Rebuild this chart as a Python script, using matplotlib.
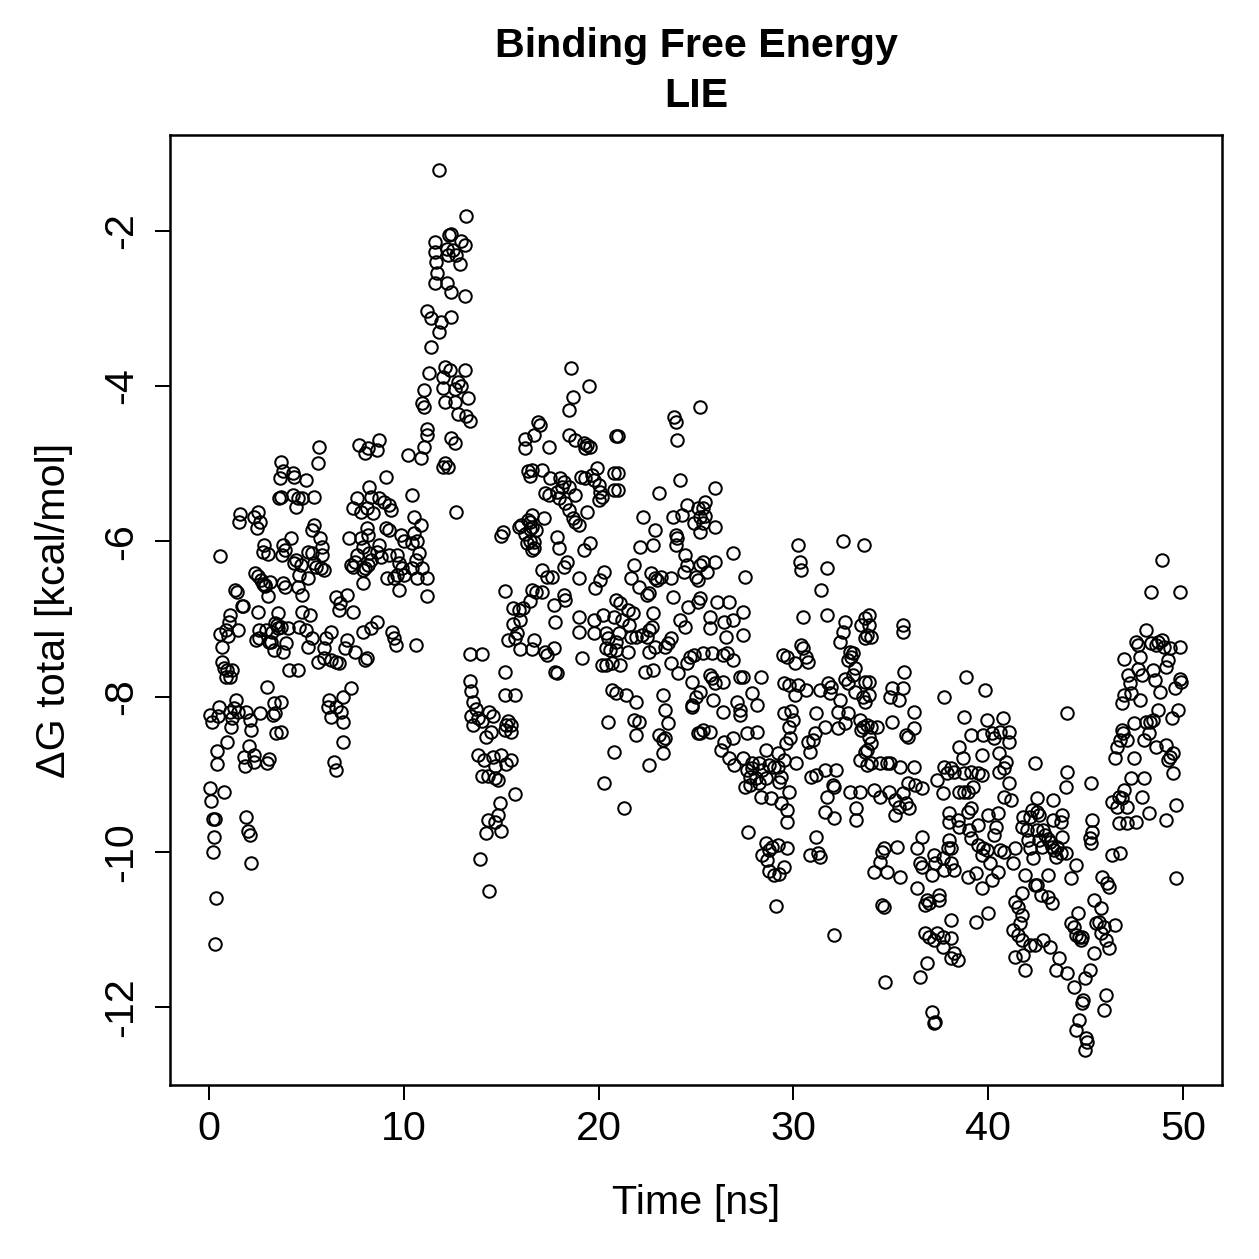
import matplotlib
matplotlib.use("Agg")
import matplotlib.pyplot as plt

plt.rcParams['font.family'] = ['Liberation Sans', 'DejaVu Sans']

# ---- data: (time [ns], dG total [kcal/mol]), by time segment ----
seg_00_04 = [(0.10,-9.35),(0.20,-9.58),(0.30,-9.58),(0.20,-10.0),(0.15,-8.33),(0.35,-10.6),(0.30,-11.19),
    (0.40,-8.87),(0.45,-8.25),(0.56,-7.19),(0.56,-6.19),(0.67,-7.36),(0.67,-7.55),(0.77,-7.63),(0.77,-9.23),
    (0.87,-7.75),(0.92,-8.58),(0.97,-7.22),(1.02,-7.04),(1.07,-7.75),(1.13,-8.39),(1.18,-8.28),(1.28,-8.15),
    (1.33,-6.63),(1.43,-6.65),(1.48,-8.2),(1.54,-5.75),(1.59,-5.65),(1.69,-6.83),(1.74,-6.83),(1.79,-8.78),
    (1.84,-8.89),(1.89,-9.55),(1.99,-9.73),(2.10,-9.78),(2.05,-8.64),(2.15,-10.15),(2.15,-8.43),(2.30,-8.84),
    (2.30,-5.69),(2.35,-6.41),(2.40,-7.27),(2.46,-5.83),(2.51,-6.91),(2.56,-7.14),(2.61,-8.21),(2.66,-6.5),
    (2.76,-6.14),(2.81,-6.05),(2.86,-6.56),(2.92,-7.14),(2.97,-7.88),(2.97,-8.86),(3.02,-6.7),(3.07,-7.3),
    (3.12,-6.52),(3.22,-7.17),(3.33,-7.4),(3.33,-8.08),(3.43,-8.47),(3.38,-8.21),(3.48,-7.08),(3.53,-6.92),
    (3.58,-5.44),(3.63,-5.18),(3.68,-4.98),(3.74,-6.18),(3.79,-6.05),(2.50,-5.62),(2.60,-5.75),(3.05,-6.16),
    (2.50,-6.45),(2.75,-6.55),(2.90,-6.58),(3.40,-7.05),(3.55,-7.12),(2.55,-7.25),(3.20,-7.3),(1.40,-8.05),
    (0.50,-8.13),(0.05,-8.24),(1.07,-8.2),(1.90,-8.2),(2.10,-8.3),(3.30,-8.24),(3.10,-8.8),(2.30,-8.75),
    (0.90,-7.14),(1.50,-7.14),(1.10,-6.95),(0.95,-7.66),(1.20,-7.66),(0.40,-8.7),(0.05,-9.18),(0.26,-9.81)]

seg_04_08 = [(5.63,-4.78),(7.68,-4.76),(8.03,-4.86),(5.58,-4.99),(3.80,-5.1),(4.30,-5.12),(4.35,-5.17),
    (4.96,-5.21),(3.70,-5.43),(4.30,-5.4),(4.55,-5.44),(4.80,-5.44),(5.37,-5.43),(4.45,-5.56),(7.60,-5.44),
    (7.40,-5.57),(7.80,-5.62),(5.40,-5.79),(5.30,-5.85),(5.70,-5.96),(5.80,-6.07),(4.20,-5.96),(3.90,-6.11),
    (5.07,-6.14),(5.30,-6.15),(5.80,-6.18),(4.45,-6.24),(4.35,-6.28),(4.70,-6.3),(5.37,-6.28),(5.48,-6.33),
    (5.73,-6.34),(5.88,-6.37),(7.17,-5.96),(7.80,-5.96),(7.90,-6.07),(7.60,-6.18),(7.50,-6.27),(7.27,-6.3),
    (7.37,-6.33),(7.90,-6.37),(7.90,-6.54),(3.80,-6.54),(3.90,-6.59),(4.60,-6.43),(5.07,-6.47),(4.55,-6.59),
    (4.80,-6.69),(6.50,-6.72),(6.75,-6.8),(7.10,-6.69),(6.65,-6.88),(7.40,-6.91),(4.80,-6.91),(5.20,-6.95),
    (3.70,-7.1),(4.04,-7.12),(4.60,-7.1),(4.96,-7.14),(5.30,-7.24),(5.07,-7.36),(3.94,-7.31),(3.80,-7.42),
    (6.24,-7.17),(6.00,-7.24),(5.90,-7.37),(7.10,-7.27),(7.00,-7.37),(7.50,-7.43),(7.90,-7.17),(8.00,-7.53),
    (5.60,-7.55),(5.90,-7.5),(6.24,-7.53),(6.50,-7.55),(6.65,-7.57),(4.10,-7.66),(4.55,-7.66),(7.27,-7.89),
    (6.86,-8.0),(6.14,-8.04),(6.09,-8.13),(6.50,-8.13),(6.76,-8.2),(6.86,-8.33),(6.24,-8.26),(3.70,-8.07),
    (3.70,-8.46),(6.86,-8.59),(6.40,-8.84),(6.50,-8.95)]

seg_08_12 = [(11.8,-1.22),(12.3,-2.05),(11.6,-2.15),(12.2,-2.24),(12.25,-2.31),(11.6,-2.28),(11.65,-2.4),
    (11.7,-2.54),(11.6,-2.67),(12.2,-2.67),(11.2,-3.04),(11.4,-3.12),(11.9,-3.17),(11.8,-3.3),(11.4,-3.5),
    (11.3,-3.83),(12.1,-3.75),(12.0,-3.88),(11.05,-4.05),(12.0,-4.02),(12.1,-4.2),(10.95,-4.22),(11.05,-4.27),
    (11.2,-4.56),(11.2,-4.63),(11.05,-4.78),(12.4,-4.67),(8.75,-4.69),(8.65,-4.82),(8.14,-4.8),(10.2,-4.89),
    (10.9,-4.93),(12.1,-4.99),(12.0,-5.04),(9.10,-5.17),(10.4,-5.4),(8.24,-5.3),(8.34,-5.43),(8.75,-5.44),
    (9.00,-5.49),(9.26,-5.53),(9.36,-5.6),(8.10,-5.57),(8.40,-5.63),(10.54,-5.69),(10.9,-5.79),(10.54,-5.89),
    (9.10,-5.83),(9.26,-5.85),(8.10,-5.83),(8.14,-5.92),(9.88,-5.92),(10.03,-6.0),(10.4,-6.02),(10.7,-6.0),
    (10.8,-6.15),(10.64,-6.24),(10.95,-6.34),(8.75,-6.05),(8.65,-6.14),(8.85,-6.2),(8.24,-6.15),(8.34,-6.24),
    (8.14,-6.3),(8.00,-6.34),(9.26,-6.18),(9.67,-6.18),(9.78,-6.28),(9.93,-6.34),(10.4,-6.34),(9.67,-6.43),
    (10.03,-6.43),(9.16,-6.47),(9.50,-6.47),(10.7,-6.47),(11.2,-6.47),(9.78,-6.63),(8.60,-7.04),(8.34,-7.12),
    (9.42,-7.17),(9.50,-7.24),(9.60,-7.33),(10.64,-7.33),(8.10,-7.5),(11.2,-6.7),(12.7,-5.62)]

seg_12_17 = [(13.2,-1.81),(12.44,-2.04),(12.95,-2.13),(13.15,-2.19),(12.54,-2.25),(12.7,-2.31),(12.9,-2.43),
    (12.44,-2.79),(13.15,-2.84),(12.44,-3.11),(12.38,-3.79),(13.15,-3.79),(12.8,-3.95),(12.64,-4.04),
    (12.95,-4.0),(13.3,-4.15),(12.64,-4.2),(12.8,-4.36),(13.2,-4.38),(13.4,-4.45),(12.64,-4.74),(12.28,-5.04),
    (16.2,-4.68),(16.2,-4.8),(16.4,-5.1),(16.5,-5.16),(16.4,-5.72),(16.5,-5.75),(16.6,-5.81),(15.9,-5.81),
    (16.0,-5.79),(16.5,-5.84),(16.2,-5.9),(16.3,-6.02),(16.5,-5.99),(15.0,-5.93),(15.1,-5.88),(15.2,-6.64),
    (15.6,-6.86),(15.9,-6.88),(16.1,-6.86),(16.5,-6.77),(15.6,-7.06),(15.95,-7.02),(15.8,-7.18),(15.35,-7.27),
    (15.7,-7.24),(15.95,-7.39),(16.6,-7.39),(13.4,-7.45),(14.0,-7.45),(15.2,-7.69),(13.4,-7.8),(13.46,-7.93),
    (13.56,-8.07),(13.7,-8.16),(13.46,-8.25),(13.82,-8.28),(13.56,-8.37),(14.0,-8.31),(14.4,-8.2),(14.6,-8.25),
    (14.5,-8.46),(14.2,-8.52),(15.35,-8.31),(15.5,-8.37),(15.5,-8.46),(15.2,-8.43),(15.25,-8.37),(15.2,-7.98),
    (15.7,-7.98),(13.8,-8.75),(14.1,-8.82),(14.6,-8.78),(14.7,-8.9),(15.0,-8.75),(15.25,-8.87),(15.5,-8.82),
    (14.85,-9.07),(14.7,-9.05),(14.0,-9.02),(14.3,-9.02),(15.7,-9.26),(14.95,-9.37),(14.85,-9.53),(14.3,-9.59),
    (14.7,-9.62),(14.2,-9.76),(15.0,-9.73),(13.9,-10.09),(14.4,-10.5)]

seg_17_21 = [(18.6,-3.77),(19.5,-4.0),(18.7,-4.14),(18.5,-4.31),(16.9,-4.46),(17.0,-4.5),(16.7,-4.63),
    (17.45,-4.78),(18.5,-4.63),(18.8,-4.69),(19.25,-4.73),(19.4,-4.76),(19.55,-4.78),(19.3,-4.8),(20.9,-4.65),
    (16.6,-5.08),(17.1,-5.08),(17.5,-5.18),(18.0,-5.18),(18.2,-5.23),(18.1,-5.3),(18.5,-5.3),(17.25,-5.38),
    (17.45,-5.4),(17.85,-5.36),(17.95,-5.44),(18.8,-5.4),(19.1,-5.17),(19.3,-5.18),(19.65,-5.14),(19.9,-5.05),
    (19.75,-5.21),(20.0,-5.27),(20.05,-5.36),(20.15,-5.43),(20.0,-5.47),(20.8,-5.12),(20.8,-5.34),(18.3,-5.51),
    (18.5,-5.6),(18.7,-5.7),(18.8,-5.75),(19.0,-5.79),(19.4,-5.62),(16.6,-5.66),(17.2,-5.7),(16.8,-5.85),
    (16.7,-6.01),(16.6,-6.11),(16.7,-6.09),(17.85,-5.94),(17.95,-6.08),(19.25,-6.11),(19.55,-6.02),(18.4,-6.27),
    (18.2,-6.33),(17.1,-6.37),(17.35,-6.46),(17.6,-6.46),(19.0,-6.47),(20.3,-6.4),(20.05,-6.5),(19.8,-6.6),
    (16.6,-6.63),(16.8,-6.65),(17.1,-6.65),(17.7,-6.82),(18.2,-6.69),(18.3,-6.76),(17.75,-7.04),(19.0,-6.97),
    (19.75,-7.01),(20.25,-6.95),(20.8,-6.97),(20.9,-6.76),(19.0,-7.17),(19.75,-7.18),(20.4,-7.18),(20.5,-7.24),
    (20.4,-7.37),(20.6,-7.4),(20.15,-7.59),(20.4,-7.59),(20.7,-7.57),(16.7,-7.27),(17.25,-7.43),(17.35,-7.46),
    (17.7,-7.37),(17.75,-7.68),(17.85,-7.7),(19.15,-7.5),(20.7,-7.92),(20.5,-8.33),(20.8,-8.71),(20.3,-9.11)]

seg_21_25 = [(25.2,-4.27),(23.85,-4.4),(23.95,-4.46),(24.05,-4.69),(21.0,-4.65),(21.0,-5.12),(21.0,-5.34),
    (24.2,-5.21),(23.1,-5.38),(22.3,-5.69),(23.8,-5.69),(24.3,-5.66),(24.55,-5.53),(25.1,-5.57),(25.2,-5.69),
    (24.9,-5.76),(25.2,-5.88),(22.9,-5.85),(22.15,-6.07),(22.8,-6.05),(23.95,-5.92),(24.05,-5.96),(23.95,-6.05),
    (24.45,-6.18),(24.55,-6.3),(24.4,-6.4),(25.0,-6.46),(25.2,-6.3),(25.1,-6.5),(21.8,-6.3),(21.65,-6.47),
    (22.7,-6.41),(22.9,-6.47),(23.0,-6.5),(23.2,-6.46),(23.7,-6.47),(22.05,-6.59),(22.5,-6.69),(22.6,-6.67),
    (23.8,-6.72),(24.6,-6.85),(25.1,-6.78),(24.2,-7.01),(24.45,-7.1),(23.7,-7.24),(23.55,-7.31),(23.4,-7.36),
    (22.8,-6.92),(22.75,-7.1),(22.6,-7.14),(22.5,-7.23),(22.9,-7.36),(22.6,-7.43),(22.4,-7.68),(22.8,-7.66),
    (23.7,-7.57),(24.1,-7.7),(24.7,-7.49),(24.9,-7.46),(24.55,-7.57),(24.8,-7.81),(25.0,-8.0),(24.8,-8.11),
    (25.2,-8.47),(21.1,-6.8),(21.5,-6.88),(21.75,-6.92),(21.2,-7.01),(21.55,-7.08),(21.65,-7.23),(21.9,-7.23),
    (22.25,-7.21),(21.05,-7.18),(20.9,-7.3),(20.9,-7.4),(21.5,-7.43),(21.1,-7.59),(20.9,-7.95),(21.4,-7.98),
    (21.9,-8.07),(21.8,-8.3),(21.9,-8.49),(22.05,-8.33),(21.3,-9.44),(23.3,-7.98),(23.4,-8.17),(23.55,-8.34),
    (23.1,-8.5),(23.3,-8.56),(23.4,-8.53),(23.3,-8.73),(22.6,-8.88),(24.8,-8.13),(25.1,-8.47)]

seg_25_29 = [(26.0,-5.31),(25.45,-5.49),(25.35,-5.57),(25.45,-5.68),(25.35,-5.76),(26.0,-5.81),(26.9,-6.15),
    (25.35,-6.27),(25.95,-6.27),(25.55,-6.39),(27.5,-6.46),(25.2,-6.73),(26.1,-6.78),(26.7,-6.78),(25.7,-6.97),
    (26.45,-7.04),(26.9,-7.01),(27.4,-6.91),(25.7,-7.12),(26.55,-7.23),(27.4,-7.21),(25.35,-7.44),(25.8,-7.44),
    (26.4,-7.46),(26.6,-7.44),(26.9,-7.53),(25.7,-7.72),(25.8,-7.76),(25.95,-7.82),(26.4,-7.81),(27.25,-7.75),
    (27.4,-7.75),(28.35,-7.75),(25.2,-7.94),(25.85,-8.04),(26.4,-8.2),(27.1,-8.07),(27.25,-8.17),(27.25,-8.24),
    (27.85,-7.95),(28.15,-8.11),(29.45,-7.46),(29.5,-7.82),(29.5,-8.21),(25.35,-8.43),(25.7,-8.46),(26.45,-8.59),
    (26.3,-8.69),(26.9,-8.53),(27.6,-8.47),(28.15,-8.46),(28.6,-8.69),(29.2,-8.73),(26.7,-8.79),(26.95,-8.88),
    (27.4,-8.79),(27.85,-8.86),(27.9,-8.92),(27.6,-8.95),(28.25,-8.86),(28.4,-8.95),(28.75,-8.88),(29.0,-8.91),
    (29.2,-8.91),(27.75,-9.04),(28.1,-9.05),(28.25,-9.11),(28.6,-9.05),(27.5,-9.16),(27.75,-9.14),(28.35,-9.29),
    (28.85,-9.31),(29.35,-9.04),(29.25,-9.1),(29.35,-9.37),(27.65,-9.74),(28.6,-9.89),(28.4,-10.04),(28.75,-9.98),
    (28.9,-9.94),(29.2,-9.91),(28.65,-10.1),(28.75,-10.25),(29.0,-10.3),(29.25,-10.28),(29.1,-10.7)]

seg_29_34 = [(30.25,-6.05),(32.55,-6.0),(33.6,-6.05),(30.35,-6.27),(30.4,-6.37),(31.7,-6.34),(31.4,-6.63),
    (30.5,-6.97),(31.7,-6.95),(32.65,-7.04),(32.55,-7.17),(32.4,-7.3),(33.45,-7.08),(33.7,-6.99),(33.65,-7.24),
    (32.9,-7.43),(32.95,-7.49),(33.05,-7.44),(32.8,-7.53),(33.15,-7.63),(33.05,-7.72),(32.65,-7.78),(32.8,-7.82),
    (33.65,-7.81),(33.55,-8.0),(33.15,-7.94),(30.4,-7.34),(30.5,-7.37),(30.65,-7.49),(30.75,-7.55),(29.65,-7.49),
    (30.1,-7.57),(29.75,-7.85),(30.25,-7.85),(30.1,-7.98),(30.65,-7.92),(31.35,-7.92),(31.8,-7.82),(31.95,-7.88),
    (31.9,-7.95),(32.4,-8.04),(32.3,-8.2),(32.8,-8.21),(33.4,-8.3),(33.55,-8.39),(33.7,-8.07),(31.6,-8.39),
    (31.15,-8.21),(29.9,-8.18),(30.0,-8.3),(29.75,-8.39),(29.85,-8.53),(29.6,-8.6),(31.1,-8.47),(31.0,-8.56),
    (30.75,-8.59),(30.85,-8.71),(33.45,-8.43),(33.4,-8.82),(33.65,-8.71),(32.3,-8.41),(32.65,-8.34),(29.5,-8.82),
    (30.15,-8.86),(29.75,-9.23),(30.9,-9.04),(31.15,-9.01),(31.6,-8.95),(32.2,-8.95),(32.05,-9.14),(32.1,-9.16),
    (31.7,-9.29),(32.9,-9.23),(33.4,-9.23),(33.2,-9.44),(33.2,-9.59),(31.6,-9.49),(32.1,-9.56),(29.65,-9.46),
    (29.65,-9.62),(29.65,-9.95),(29.5,-10.2),(31.15,-9.81),(30.85,-10.04),(31.25,-10.01),(31.35,-10.07),
    (32.1,-11.07)]

seg_34_38 = [(33.9,-6.95),(33.9,-7.08),(33.8,-7.21),(34.0,-7.23),(35.65,-7.08),(35.65,-7.17),(35.7,-7.68),
    (33.9,-7.81),(33.9,-7.98),(35.05,-7.89),(35.65,-7.89),(34.95,-8.0),(35.4,-8.04),(36.2,-8.2),(37.75,-8.0),
    (35.05,-8.33),(36.2,-8.41),(35.8,-8.5),(35.9,-8.52),(33.8,-8.37),(34.0,-8.39),(34.3,-8.39),(33.9,-8.52),
    (34.0,-8.6),(33.8,-8.69),(33.8,-8.88),(34.0,-8.86),(34.45,-8.86),(34.8,-8.86),(34.95,-8.86),(35.45,-8.91),
    (36.2,-8.91),(34.15,-9.2),(34.45,-9.29),(34.9,-9.23),(35.2,-9.33),(35.4,-9.42),(35.2,-9.53),(35.8,-9.37),
    (35.95,-9.44),(36.25,-9.14),(36.6,-9.18),(35.9,-9.11),(35.65,-9.24),(37.35,-9.07),(37.75,-8.91),(37.9,-8.98),
    (37.7,-9.24),(38.0,-9.5),(38.0,-9.62),(34.65,-9.95),(34.55,-10.0),(35.3,-9.94),(34.45,-10.13),(34.15,-10.26),
    (34.8,-10.26),(35.45,-10.32),(36.35,-9.95),(36.6,-9.81),(36.5,-10.14),(36.6,-10.2),(37.1,-10.3),(37.2,-10.04),
    (37.7,-10.08),(37.25,-10.14),(37.75,-10.23),(38.0,-9.85),(37.95,-9.95),(36.35,-10.47),(36.85,-10.62),
    (36.95,-10.66),(37.45,-10.56),(37.45,-10.62),(36.75,-10.69),(37.35,-11.05),(37.2,-11.14),(37.7,-11.1),
    (36.75,-11.05),(36.95,-11.1),(37.7,-11.23),(38.1,-10.88),(38.1,-11.37),(36.85,-11.43),(36.5,-11.61),
    (34.7,-11.68),(37.1,-12.06),(37.25,-12.19),(37.2,-12.2),(34.55,-10.69),(34.65,-10.71)]

seg_38_42 = [(38.85,-7.75),(39.85,-7.92),(38.75,-8.26),(39.95,-8.3),(40.75,-8.28),(39.1,-8.49),(39.75,-8.49),
    (40.2,-8.47),(40.3,-8.53),(40.6,-8.46),(41.05,-8.46),(41.05,-8.59),(38.5,-8.65),(38.7,-8.79),(39.7,-8.75),
    (40.55,-8.73),(40.9,-8.84),(40.8,-8.92),(40.55,-8.97),(38.1,-8.92),(38.25,-8.97),(38.75,-8.99),(39.1,-8.97),
    (39.5,-8.99),(39.7,-9.01),(42.4,-8.86),(38.5,-9.23),(38.75,-9.23),(39.2,-9.16),(38.95,-9.23),(40.8,-9.29),
    (41.15,-9.33),(41.05,-9.11),(40.5,-9.5),(40.0,-9.53),(40.4,-9.68),(40.3,-9.78),(39.1,-9.44),(38.95,-9.49),
    (38.45,-9.59),(38.5,-9.68),(39.0,-9.72),(39.5,-9.65),(39.1,-9.82),(39.45,-9.91),(39.75,-9.95),(39.7,-10.04),
    (39.95,-9.98),(40.6,-9.98),(40.8,-10.0),(41.4,-9.95),(38.1,-9.95),(38.1,-10.14),(38.25,-10.23),(38.95,-10.32),
    (39.35,-10.27),(40.1,-10.14),(40.5,-10.26),(40.2,-10.36),(41.25,-10.14),(41.8,-9.55),(41.75,-9.68),(42.0,-9.72),
    (42.25,-9.46),(42.15,-9.55),(42.05,-9.85),(42.15,-9.95),(42.3,-10.08),(41.9,-10.3),(42.4,-10.43),(39.7,-10.47),
    (41.75,-10.53),(41.4,-10.65),(41.55,-10.71),(41.75,-10.81),(41.65,-10.92),(41.25,-11.01),(41.55,-11.07),
    (41.75,-11.14),(42.15,-11.2),(41.4,-11.36),(41.8,-11.33),(41.9,-11.52),(40.0,-10.79),(39.35,-10.9),
    (38.1,-11.11),(38.25,-11.3),(38.45,-11.39)]

seg_42_47 = [(46.6,-8.65),(46.5,-8.79),(44.05,-8.97),(44.0,-9.16),(45.3,-9.11),(42.5,-9.31),(43.3,-9.33),
    (42.5,-9.49),(42.6,-9.53),(43.3,-9.59),(43.8,-9.53),(43.75,-9.62),(45.35,-9.59),(45.35,-9.74),(45.2,-9.82),
    (45.3,-9.89),(42.5,-9.72),(42.8,-9.72),(42.9,-9.78),(43.05,-9.83),(42.6,-9.85),(42.75,-9.94),(43.15,-9.87),
    (43.25,-9.94),(43.4,-9.98),(43.55,-9.94),(43.75,-10.02),(44.0,-10.02),(43.8,-9.81),(43.5,-10.07),(46.35,-9.36),
    (46.6,-9.42),(46.7,-9.29),(46.7,-9.63),(46.35,-10.04),(44.5,-10.17),(44.25,-10.34),(43.05,-10.3),(42.5,-10.43),
    (42.7,-10.56),(43.05,-10.58),(43.25,-10.66),(45.85,-10.32),(46.1,-10.4),(46.2,-10.45),(45.45,-10.62),
    (45.8,-10.72),(45.7,-10.9),(45.55,-10.92),(45.95,-10.97),(46.5,-10.94),(45.8,-11.04),(46.05,-11.14),
    (46.2,-11.24),(45.45,-11.3),(44.6,-10.79),(44.25,-10.92),(44.4,-10.97),(44.65,-11.1),(44.8,-11.1),(44.5,-11.07),
    (44.75,-11.14),(42.4,-11.2),(42.8,-11.14),(43.15,-11.23),(43.65,-11.37),(43.5,-11.52),(44.05,-11.56),
    (44.4,-11.74),(44.95,-11.63),(45.2,-11.52),(44.85,-11.91),(44.8,-11.95),(46.05,-11.85),(45.95,-12.04),
    (44.65,-12.17),(44.5,-12.3),(45.0,-12.4),(45.05,-12.45),(44.95,-12.55),(44.05,-8.21)]

seg_47_50 = [(48.9,-6.24),(48.35,-6.65),(49.85,-6.65),(48.1,-7.14),(47.6,-7.3),(47.7,-7.33),(48.35,-7.31),
    (48.6,-7.33),(48.7,-7.3),(48.9,-7.27),(49.0,-7.36),(49.35,-7.37),(49.85,-7.36),(46.95,-7.51),(47.8,-7.49),
    (47.7,-7.64),(48.45,-7.66),(49.25,-7.53),(49.15,-7.62),(47.2,-7.72),(47.9,-7.72),(48.55,-7.79),(49.85,-7.77),
    (49.9,-7.81),(47.3,-7.83),(48.8,-7.94),(49.6,-7.89),(46.95,-7.98),(47.35,-7.95),(47.8,-8.04),(46.85,-8.08),
    (48.7,-8.17),(49.75,-8.17),(49.45,-8.28),(48.1,-8.33),(48.3,-8.33),(48.45,-8.3),(47.5,-8.34),(46.85,-8.43),
    (46.9,-8.47),(46.75,-8.56),(48.0,-8.56),(47.1,-8.56),(48.25,-8.47),(48.6,-8.65),(49.15,-8.62),(49.5,-8.73),
    (49.25,-8.82),(49.35,-8.78),(49.5,-8.98),(47.5,-8.79),(47.35,-9.05),(48.0,-9.05),(46.95,-9.2),(47.9,-9.29),
    (46.85,-9.31),(47.1,-9.42),(47.6,-9.62),(47.1,-9.63),(48.25,-9.5),(49.15,-9.59),(49.65,-9.4),(46.75,-10.02),
    (49.65,-10.34)]

x_ticks = [0, 10, 20, 30, 40, 50]
y_ticks = [-12, -10, -8, -6, -4, -2]
title_lines = ["Binding Free Energy", "LIE"]
x_label = "Time [ns]"
y_label = "\u0394G total [kcal/mol]"

points = (seg_00_04 + seg_04_08 + seg_08_12 + seg_12_17 + seg_17_21 + seg_21_25 +
          seg_25_29 + seg_29_34 + seg_34_38 + seg_38_42 + seg_42_47 + seg_47_50)
time_ns = [p[0] for p in points]
dg_total = [p[1] for p in points]

# ---- figure ----
W = 1259
DPI = 180
fig = plt.figure(figsize=(W / DPI, W / DPI), dpi=DPI)
L, R, T, B = 170, 1222, 135, 1085
ax = fig.add_axes([L / W, 1 - B / W, (R - L) / W, (B - T) / W])

ax.plot(time_ns, dg_total, linestyle='none', marker='o', markersize=5.0,
        markerfacecolor='none', markeredgecolor='black', markeredgewidth=0.8)

# R-style 4% padding
x0, x1 = 0.0, 50.0
y0, y1 = min(dg_total), max(dg_total)
ax.set_xlim(x0 - 0.04 * (x1 - x0), x1 + 0.04 * (x1 - x0))
ax.set_ylim(y0 - 0.04 * (y1 - y0), y1 + 0.04 * (y1 - y0))

FS = 16.5
ax.set_xticks(x_ticks)
ax.set_xticklabels([str(v) for v in x_ticks])
ax.set_yticks(y_ticks)
ax.set_yticklabels([str(v) for v in y_ticks], rotation=90, va='center')
ax.tick_params(axis='both', direction='out', length=6, width=0.8, labelsize=FS, color='black')
ax.tick_params(axis='x', pad=4)
ax.tick_params(axis='y', pad=6)
for s in ax.spines.values():
    s.set_linewidth(1.0)
    s.set_color('black')

ax.set_xlabel(x_label, fontsize=FS, va='baseline')
ax.xaxis.set_label_coords(0.5, -(1214 - B) / (B - T))
ax.set_ylabel(y_label, fontsize=FS, rotation=90, rotation_mode='anchor', ha='center', va='baseline')
ax.yaxis.set_label_coords(-(L - 65) / (R - L), 0.5)

cx = (L + R) / 2 / W
fig.text(cx, 1 - 57 / W, title_lines[0], ha='center', va='baseline', fontsize=16.5, fontweight='bold')
fig.text(cx, 1 - 107 / W, title_lines[1], ha='center', va='baseline', fontsize=16.5, fontweight='bold')

fig.savefig("out.png", dpi=DPI, facecolor='white')
